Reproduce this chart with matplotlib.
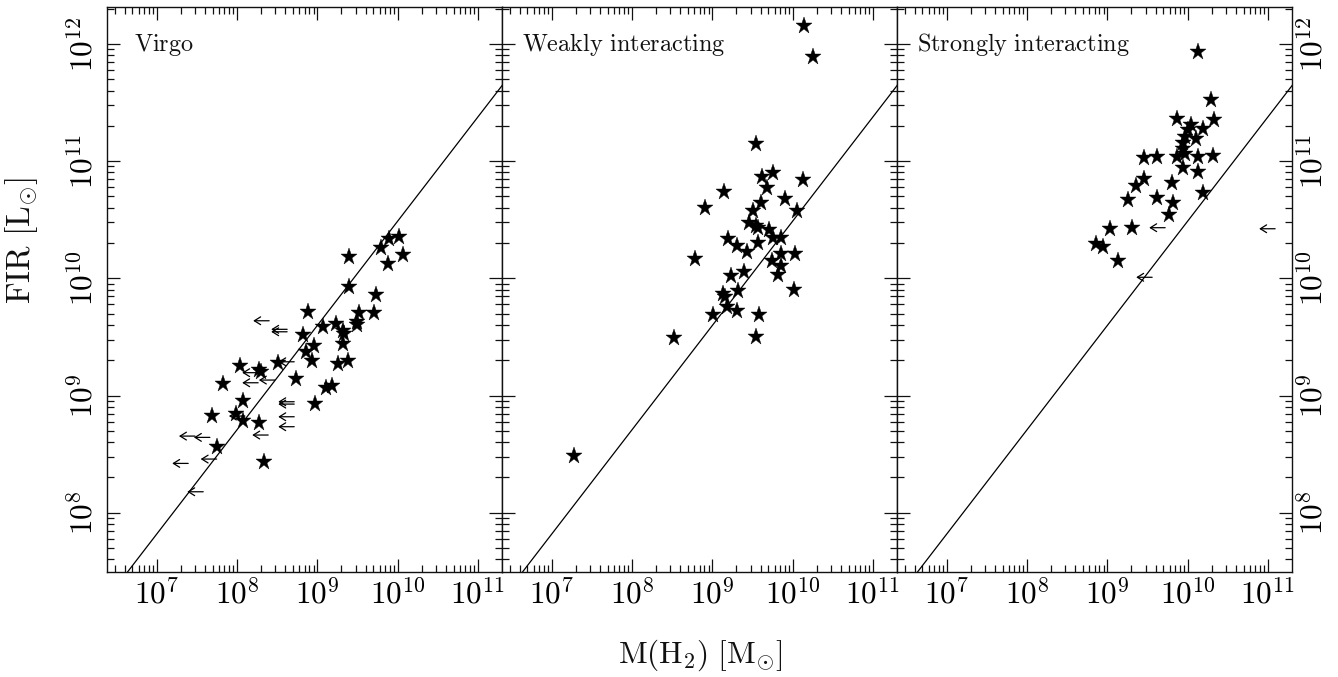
import numpy as np
import matplotlib
matplotlib.use("Agg")
import matplotlib.pyplot as plt
from matplotlib.ticker import FixedLocator, NullFormatter, LogLocator

plt.rcParams['mathtext.fontset'] = 'cm'
plt.rcParams['font.family'] = ['DejaVu Serif']

# ---------------- data (log10 values) ----------------
panel_titles = ["Virgo", "Weakly interacting", "Strongly interacting"]
xtick_vals = [1e7, 1e8, 1e9, 1e10, 1e11]
xtick_labels = [r'$10^{7}$', r'$10^{8}$', r'$10^{9}$', r'$10^{10}$', r'$10^{11}$']
ytick_vals = [1e8, 1e9, 1e10, 1e11, 1e12]
ytick_labels = [r'$10^{8}$', r'$10^{9}$', r'$10^{10}$', r'$10^{11}$', r'$10^{12}$']

# Virgo detections
virgo_logM = [9.397, 9.792, 9.887, 10.012, 10.062, 9.879, 9.397, 9.729, 9.514, 9.704,
              8.879, 9.073, 9.231, 9.315, 9.331, 9.489, 9.497, 8.824, 8.958, 9.322,
              8.854, 8.929, 9.253, 9.377, 8.506, 8.037, 8.277, 8.298, 8.734, 7.821,
              9.107, 9.178, 8.078, 8.970, 7.684, 7.987, 8.078, 8.277, 7.754, 8.335]
virgo_logFIR = [10.184, 10.256, 10.333, 10.355, 10.196, 10.125, 9.923, 9.855, 9.706, 9.701,
                9.715, 9.582, 9.608, 9.553, 9.525, 9.630, 9.602, 9.516, 9.425, 9.439,
                9.374, 9.297, 9.269, 9.294, 9.280, 9.254, 9.218, 9.203, 9.141, 9.096,
                9.061, 9.081, 8.956, 8.925, 8.825, 8.840, 8.782, 8.763, 8.558, 8.435]
# Virgo upper limits on M(H2)
virgo_lim_logM = [8.401, 8.625, 8.625, 8.713, 8.264, 8.264, 8.472, 8.713, 8.713, 8.713,
                  8.713, 8.099, 8.389, 7.477, 7.663, 7.747, 7.393, 7.580]
virgo_lim_logFIR = [9.638, 9.565, 9.544, 9.288, 9.195, 9.109, 9.132, 8.947, 8.927, 8.819,
                    8.734, 8.825, 8.663, 8.654, 8.643, 8.458, 8.421, 8.179]

# Weakly interacting detections
weak_logM = [10.144, 10.248, 9.539, 9.750, 9.614, 10.131, 9.676, 9.148, 8.908, 9.904,
             9.601, 9.509, 10.049, 9.459, 9.543, 9.571, 9.708, 9.750, 9.854, 9.190,
             9.310, 9.571, 9.427, 9.850, 10.028, 8.783, 9.745, 9.850, 9.820, 9.231,
             9.393, 10.016, 9.322, 9.128, 9.157, 9.178, 9.310, 9.004, 9.584, 9.539,
             8.526, 7.278]
weak_logFIR = [12.155, 11.886, 11.143, 10.901, 10.867, 10.839, 10.768, 10.734, 10.602, 10.677,
               10.640, 10.574, 10.574, 10.469, 10.446, 10.427, 10.412, 10.341, 10.346, 10.333,
               10.276, 10.299, 10.222, 10.205, 10.205, 10.162, 10.148, 10.105, 10.026, 10.020,
               10.051, 9.900, 9.894, 9.866, 9.838, 9.758, 9.724, 9.687, 9.687, 9.502,
               9.488, 8.486]

# Strongly interacting detections
strong_logM = [10.135, 10.289, 9.866, 10.334, 10.044, 10.003, 10.190, 9.970, 10.106, 9.941,
               9.949, 9.970, 9.463, 9.621, 9.864, 10.135, 10.318, 9.949, 10.131, 9.463,
               9.360, 9.804, 9.260, 9.617, 9.820, 10.197, 9.774, 9.036, 9.314, 8.862,
               8.953, 9.132]
strong_logFIR = [11.928, 11.521, 11.357, 11.351, 11.312, 11.265, 11.270, 11.210, 11.189, 11.154,
                 11.107, 11.065, 11.024, 11.032, 11.038, 11.031, 11.045, 10.944, 10.911, 10.846,
                 10.785, 10.811, 10.672, 10.688, 10.640, 10.730, 10.540, 10.423, 10.427, 10.290,
                 10.270, 10.148]
strong_lim_logM = [9.721, 11.090, 9.559]
strong_lim_logFIR = [10.432, 10.423, 10.009]

weak_lim_logM = []
weak_lim_logFIR = []

# reference relation (two end points, log10)
line_logM = [6.0, 12.0]
line_logFIR = [6.927, 12.267]

# ---------------- figure ----------------
W, H = 1338, 677
fig = plt.figure(figsize=(W / 100, H / 100), dpi=100)

x_lo, x_hi = 10 ** 6.386, 10 ** 11.30
y_lo, y_hi = 10 ** 7.497, 10 ** 12.315

lefts = [107.3, 502.3, 897.3]
pw = 394.7
bottom = (H - 571.7) / H
ph = 564.7 / H

datasets = [
    (virgo_logM, virgo_logFIR, virgo_lim_logM, virgo_lim_logFIR),
    (weak_logM, weak_logFIR, weak_lim_logM, weak_lim_logFIR),
    (strong_logM, strong_logFIR, strong_lim_logM, strong_lim_logFIR),
]

ink = '#111111'
for i, (lm, lf, llm, llf) in enumerate(datasets):
    ax = fig.add_axes([lefts[i] / W, bottom, pw / W, ph])
    ax.set_xscale('log')
    ax.set_yscale('log')
    ax.set_xlim(x_lo, x_hi)
    ax.set_ylim(y_lo, y_hi)

    ax.plot(10 ** np.array(line_logM), 10 ** np.array(line_logFIR), color='black', lw=0.9, zorder=2)
    ax.plot(10 ** np.array(lm), 10 ** np.array(lf), linestyle='none', marker='*',
            ms=12.5, color='black', mec='black', mew=0.3, zorder=3)
    for xm, yf in zip(llm, llf):
        ax.annotate('', xy=(10 ** xm, 10 ** yf), xycoords='data',
                    xytext=(-11.5, 0), textcoords='offset points',
                    arrowprops=dict(arrowstyle='<-, head_length=0.45, head_width=0.28',
                                    color='black', lw=0.9, shrinkA=0, shrinkB=0),
                    zorder=3)

    ax.xaxis.set_major_locator(FixedLocator(xtick_vals))
    ax.set_xticklabels(xtick_labels)
    ax.xaxis.set_minor_locator(LogLocator(base=10, subs=np.arange(2, 10), numticks=20))
    ax.xaxis.set_minor_formatter(NullFormatter())
    ax.yaxis.set_major_locator(FixedLocator(ytick_vals))
    ax.yaxis.set_minor_locator(LogLocator(base=10, subs=np.arange(2, 10), numticks=20))
    ax.yaxis.set_minor_formatter(NullFormatter())

    ax.tick_params(which='both', direction='in', top=True, right=True, color=ink, width=0.9)
    ax.tick_params(which='major', length=9.5)
    ax.tick_params(which='minor', length=4.8)
    ax.tick_params(axis='x', which='major', labelsize=22.5, pad=6)

    if i == 0:
        ax.set_yticklabels(ytick_labels)
        ax.tick_params(axis='y', which='major', labelsize=22.5, pad=5, labelleft=True, labelright=False)
        for lab in ax.get_yticklabels():
            lab.set_rotation(90)
            lab.set_va('center')
    elif i == 2:
        ax.set_yticklabels(ytick_labels)
        ax.tick_params(axis='y', which='major', labelsize=22.5, pad=5, labelleft=False, labelright=True)
        for lab in ax.get_yticklabels():
            lab.set_rotation(90)
            lab.set_va('center')
    else:
        ax.tick_params(axis='y', labelleft=False, labelright=False)

    for sp in ax.spines.values():
        sp.set_linewidth(1.0)
        sp.set_color(ink)

    ax.text(0.068 if i == 0 else 0.05, 0.922, panel_titles[i].replace(' ', r'\ ').join([r'$\mathrm{', '}$']),
            transform=ax.transAxes, fontsize=17.5, ha='left', va='baseline', color=ink)

fig.text(22 / W, 1 - 240 / H, r'$\mathrm{FIR\ [L_{\odot}]}$', rotation=90,
         ha='center', va='center', fontsize=24, color=ink)
fig.text(700 / W, 1 - 655 / H, r'$\mathrm{M(H_{2})\ [M_{\odot}]}$',
         ha='center', va='center', fontsize=22.5, color=ink)

fig.savefig('out.png', dpi=100)
